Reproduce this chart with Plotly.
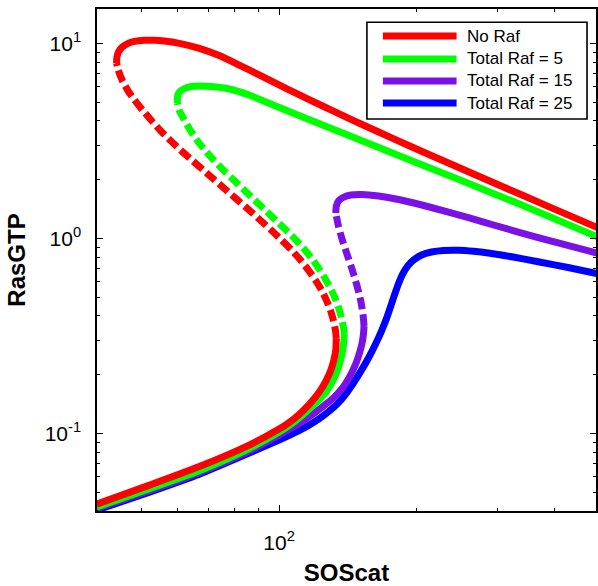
import math
import plotly.graph_objects as go

# ---------------- data ----------------
# No Raf : lower stable branch, unstable (dashed) branch, upper stable branch
red_low_x = [39.93, 52.10, 66.95, 86.03, 100, 105.14, 110.55, 116.82, 122.22, 126.59, 129.81, 131.77, 133.10, 133.4]
red_low_y = [0.0434, 0.0543, 0.0676, 0.0871, 0.1052, 0.1136, 0.1249, 0.1422, 0.1620, 0.1855, 0.2112, 0.2377,
             0.2707, 0.3082]
red_mid_x = [133.4, 132.8, 131.4, 129.5, 126.9, 123.8, 120.1, 115.9, 111.4, 106.5, 101.3, 96.07, 90.91, 86.03,
             81.21, 76.65, 72.36, 68.30, 64.47, 60.86, 57.74, 54.91, 52.49, 50.30, 48.32, 46.65, 45.38, 44.52, 44.14]
red_mid_y = [0.3082, 0.3387, 0.3811, 0.4289, 0.4827, 0.5432, 0.6113, 0.6879, 0.7741, 0.8712, 0.9804, 1.103,
             1.242, 1.397, 1.572, 1.769, 1.991, 2.241, 2.522, 2.838, 3.193, 3.593, 4.043, 4.549, 5.120, 5.761,
             6.483, 7.296, 7.925]
red_up_x = [44.14, 44.22, 44.60, 45.39, 46.65, 48.32, 50.81, 53.42, 56.17, 60.56, 66.95, 74.01, 81.82, 90.45,
            100, 110.55, 122.22, 142.07, 165.14, 191.96, 234.62, 301.50, 387.46, 500.4]
red_up_y = [7.925, 8.506, 9.077, 9.572, 9.976, 10.239, 10.372, 10.372, 10.275, 10.0, 9.426, 8.658, 7.739, 6.894,
            6.126, 5.456, 4.872, 4.124, 3.509, 2.992, 2.434, 1.883, 1.459, 1.126]

# Total Raf = 5
grn_low_x = [39.93, 52.10, 66.95, 86.03, 100, 105.14, 112.23, 118.00, 123.45, 127.22, 130.46, 133.10, 135.46,
             137.17, 138.34, 138.90]
grn_low_y = [0.0419, 0.0521, 0.0644, 0.0836, 0.1016, 0.1096, 0.1234, 0.1373, 0.1527, 0.1658, 0.1822, 0.2015,
             0.2254, 0.2521, 0.2854, 0.3231]
grn_mid_x = [138.90, 138.55, 137.31, 135.46, 133.10, 130.13, 126.59, 122.83, 118.60, 113.93, 108.90, 103.57,
             98.26, 93.21, 88.44, 83.90, 79.60, 75.51, 72.00, 68.82, 66.11, 63.93, 62.10, 60.46, 59.95]
grn_mid_y = [0.3231, 0.3387, 0.3811, 0.4289, 0.4827, 0.5432, 0.6113, 0.6879, 0.7741, 0.8712, 0.9804, 1.103,
             1.242, 1.397, 1.572, 1.769, 1.991, 2.241, 2.522, 2.838, 3.193, 3.593, 4.043, 4.549, 4.942]
grn_up_x = [59.95, 60.01, 60.56, 62.10, 64.31, 66.95, 71.10, 77.82, 86.03, 95.11, 110.55, 128.51, 182.57,
            250.43, 333.32, 500.4]
grn_up_y = [4.942, 5.367, 5.627, 5.864, 6.004, 6.040, 6.004, 5.830, 5.431, 4.930, 4.263, 3.700, 2.660, 1.979,
            1.508, 1.0095]

# Total Raf = 15
pur_low_x = [39.93, 52.10, 66.95, 86.03, 100, 110.55, 118.60, 125.95, 131.77, 136.48, 140.65, 144.22, 147.52,
             150.13, 152.03, 153.02, 153.40]
pur_low_y = [0.0412, 0.0509, 0.0629, 0.0811, 0.0980, 0.1123, 0.1256, 0.1397, 0.1527, 0.1668, 0.1844, 0.2051,
             0.2308, 0.2612, 0.2940, 0.3269, 0.3550]
pur_mid_x = [153.40, 152.64, 150.74, 147.89, 144.59, 141.01, 137.51, 134.65, 133.10]
pur_mid_y = [0.3550, 0.4043, 0.4827, 0.5763, 0.6879, 0.8213, 0.9804, 1.171, 1.348]
pur_up_x = [133.10, 133.4, 135.12, 138.55, 143.50, 151.64, 165.14, 182.57, 212.22, 259.38, 297.00, 368.50, 500.4]
pur_up_y = [1.348, 1.4645, 1.5628, 1.6287, 1.6676, 1.6775, 1.6480, 1.5813, 1.4524, 1.2786, 1.1639, 1.0095, 0.8359]

# Total Raf = 25 (single stable branch)
blu_x = [39.93, 52.10, 66.95, 86.03, 100, 110.55, 116.24, 122.22, 128.51, 133.77, 138.55, 145.68, 151.64,
         157.06, 162.67, 167.64, 171.90, 175.39, 178.95, 182.57, 186.27, 191.00, 196.83, 204.90, 215.44,
         228.81, 246.69, 265.97, 286.75, 325.06, 368.50, 428.35, 500.4]
blu_y = [0.0404, 0.0500, 0.0618, 0.0792, 0.0924, 0.1033, 0.1102, 0.1187, 0.1297, 0.1412, 0.1547, 0.1825,
         0.2122, 0.2450, 0.2881, 0.3367, 0.3903, 0.4476, 0.5157, 0.5886, 0.6562, 0.7212, 0.7741, 0.8213,
         0.8509, 0.8661, 0.8681, 0.8579, 0.8409, 0.8021, 0.7587, 0.7085, 0.6562]

legend_names = ["No Raf", "Total Raf = 5", "Total Raf = 15", "Total Raf = 25"]
RED, GRN, PUR, BLU = "#FF0000", "#00FF00", "#7A12E6", "#0000FF"
legend_colors = [RED, GRN, PUR, BLU]

x_major = [100]
x_major_text = ["10<sup>2</sup>"]
x_minor = [50, 60, 70, 80, 90, 200, 300, 400]
y_major = [0.1, 1, 10]
y_major_text = ["10<sup>-1</sup>", "10<sup>0</sup>", "10<sup>1</sup>"]
y_minor = [0.05, 0.06, 0.07, 0.08, 0.09, 0.2, 0.3, 0.4, 0.5, 0.6, 0.7, 0.8, 0.9, 2, 3, 4, 5, 6, 7, 8, 9]

# ---------------- figure ----------------
LW = 7
DASH = "12px,5px"
FONT = "Liberation Sans, Arial, Helvetica, sans-serif"

fig = go.Figure()

def add(x, y, color, dash=None):
    fig.add_trace(go.Scatter(x=x, y=y, mode="lines", showlegend=False, hoverinfo="skip",
                             line=dict(color=color, width=LW, dash=dash or "solid",
                                       shape="spline", smoothing=0.6)))

# drawing order: blue, purple, green, red (red on top)
add(blu_x, blu_y, BLU)
add(pur_low_x, pur_low_y, PUR)
add(pur_mid_x, pur_mid_y, PUR, DASH)
add(pur_up_x, pur_up_y, PUR)
add(grn_low_x, grn_low_y, GRN)
add(grn_mid_x, grn_mid_y, GRN, DASH)
add(grn_up_x, grn_up_y, GRN)
add(red_low_x, red_low_y, RED)
add(red_mid_x, red_mid_y, RED, DASH)
add(red_up_x, red_up_y, RED)

axis_common = dict(
    type="log", showgrid=False, zeroline=False,
    showline=True, linecolor="black", linewidth=1.5, mirror="allticks",
    ticks="inside", ticklen=6, tickwidth=1.2, tickcolor="black",
    tickfont=dict(family=FONT, size=21, color="black"),
)

fig.update_layout(
    width=598, height=586,
    margin=dict(l=97, r=0, t=9, b=75),
    paper_bgcolor="white", plot_bgcolor="white",
    font=dict(family=FONT, color="black"),
    xaxis=dict(
        **axis_common,
        range=[math.log10(40), math.log10(493)],
        tickmode="array", tickvals=x_major, ticktext=x_major_text,
        ticklabelstandoff=12,
        minor=dict(tickmode="array", tickvals=x_minor, ticks="inside", ticklen=3.5,
                   tickwidth=1, tickcolor="black", showgrid=False),
        title=dict(text="<b>SOScat</b>", font=dict(family=FONT, size=24, color="black"), standoff=11),
    ),
    yaxis=dict(
        **axis_common,
        range=[math.log10(0.04), math.log10(15)],
        tickmode="array", tickvals=y_major, ticktext=y_major_text,
        ticklabelstandoff=10,
        minor=dict(tickmode="array", tickvals=y_minor, ticks="inside", ticklen=3.5,
                   tickwidth=1, tickcolor="black", showgrid=False),
        title=dict(text="<b>RasGTP</b>", font=dict(family=FONT, size=24, color="black"), standoff=12),
    ),
)

# ---------------- manual legend ----------------
shapes = [dict(type="rect", xref="paper", yref="paper", x0=0.5409, x1=0.982, y0=0.7809, y1=0.9735,
               line=dict(color="black", width=1.6), fillcolor="white", layer="above")]
annotations = []
rows = [0.9462, 0.9004, 0.8566, 0.8127]
for name, col, yy in zip(legend_names, legend_colors, rows):
    shapes.append(dict(type="line", xref="paper", yref="paper", x0=0.5729, x1=0.7206, y0=yy, y1=yy,
                       line=dict(color=col, width=LW), layer="above"))
    annotations.append(dict(xref="paper", yref="paper", x=0.7365, y=yy, xanchor="left", yanchor="middle",
                            text=name, showarrow=False,
                            font=dict(family=FONT, size=17, color="black")))
fig.update_layout(shapes=shapes, annotations=annotations)

fig.write_html("out.html")
